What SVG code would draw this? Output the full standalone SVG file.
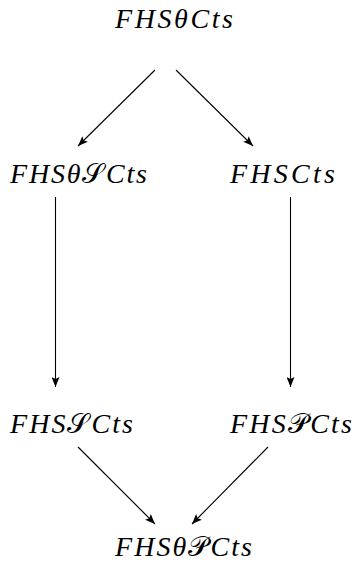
<svg xmlns="http://www.w3.org/2000/svg" width="354" height="565" viewBox="0 0 354 565">
<style>
text{font-family:"Liberation Serif","Times New Roman",serif;font-style:italic;font-size:28px;fill:#000}
.cal{font-family:"DejaVu Sans","DejaVu Serif","Noto Sans",serif;font-style:normal}
line{stroke:#000;stroke-width:1.1}
</style>
<defs>
<marker id="ah" viewBox="0 0 10 8" refX="10" refY="4" markerWidth="10" markerHeight="8" markerUnits="userSpaceOnUse" orient="auto">
<path d="M0,0 L10,4 L0,8 L2,4 z" fill="#000"/>
</marker>
</defs>
<g id="n1"><text x="115" y="28" textLength="118" lengthAdjust="spacing">FHSθCts</text></g>
<g id="n2"><text x="10" y="183" textLength="137" lengthAdjust="spacing">FHSθ<tspan class="cal">𝒮</tspan>Cts</text></g>
<g id="n3"><text x="230" y="183" textLength="105" lengthAdjust="spacing">FHSCts</text></g>
<g id="n4"><text x="10" y="433" textLength="123" lengthAdjust="spacing">FHS<tspan class="cal">𝒮</tspan>Cts</text></g>
<g id="n5"><text x="230" y="433" textLength="122" lengthAdjust="spacing">FHS<tspan class="cal">𝒫</tspan>Cts</text></g>
<g id="n6"><text x="115" y="556" textLength="137" lengthAdjust="spacing">FHSθ<tspan class="cal">𝒫</tspan>Cts</text></g>
<g id="connectors">
<line x1="155" y1="70" x2="78" y2="146" marker-end="url(#ah)"/>
<line x1="176" y1="70" x2="253" y2="146" marker-end="url(#ah)"/>
<line x1="55.5" y1="197" x2="55.5" y2="387" marker-end="url(#ah)"/>
<line x1="290.5" y1="197" x2="290.5" y2="387" marker-end="url(#ah)"/>
<line x1="78" y1="447" x2="155" y2="524" marker-end="url(#ah)"/>
<line x1="268" y1="447" x2="192" y2="524" marker-end="url(#ah)"/>
</g>
</svg>
